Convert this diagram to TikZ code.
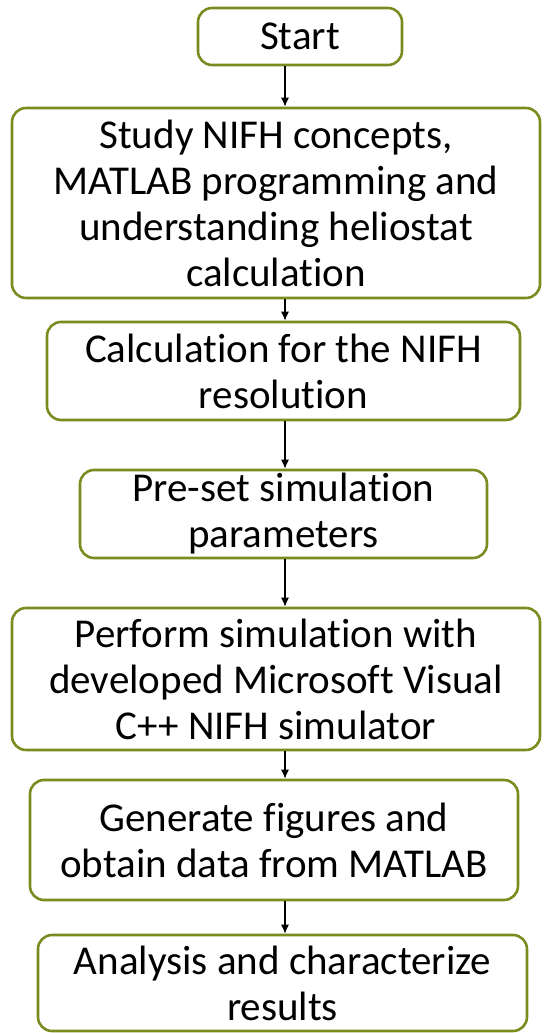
\documentclass[tikz,border=0pt]{standalone}
\usepackage{fontspec}
\setmainfont{Carlito}[Ligatures=NoCommon]
\usetikzlibrary{arrows.meta}
\definecolor{boxgreen}{RGB}{122,140,32}

\begin{document}
\begin{tikzpicture}[x=1pt,y=-1pt,
	step box/.style={shape=rectangle,rounded corners=14pt,draw=boxgreen,line width=2.6pt,
		align=center,inner sep=0pt,font=\fontsize{41}{46}\selectfont},
	flow/.style={-{Latex[length=9pt,width=8pt]},line width=1.3pt,black}]

	\useasboundingbox (0,0) rectangle (544,1033);

	\node[step box,minimum width=204pt,minimum height=57pt]  (start)   at (300, 36.5) {Start};
	\node[step box,minimum width=528pt,minimum height=190pt] (study)   at (276, 203)  {Study NIFH concepts,\\ MATLAB programming and\\ understanding heliostat\\ calculation};
	\node[step box,minimum width=473pt,minimum height=98pt]  (calc)    at (283.5, 371) {Calculation for the NIFH\\ resolution};
	\node[step box,minimum width=407pt,minimum height=88pt]  (preset)  at (283.5, 514) {Pre-set simulation\\ parameters};
	\node[step box,minimum width=528pt,minimum height=142pt] (perform) at (276, 679)  {Perform simulation with\\ developed Microsoft Visual\\ C++ NIFH simulator};
	\node[step box,minimum width=488pt,minimum height=120pt] (figs)    at (274, 840)  {Generate figures and\\ obtain data from MATLAB};
	\node[step box,minimum width=489pt,minimum height=96pt]  (results) at (282.5, 983) {Analysis and characterize\\ results};

	\coordinate (axis) at (285, 0);

	\draw[flow] (start.south -| axis)   -- (study.north -| axis);
	\draw[flow] (study.south -| axis)   -- (calc.north -| axis);
	\draw[flow] (calc.south -| axis)    -- (preset.north -| axis);
	\draw[flow] (preset.south -| axis)  -- (perform.north -| axis);
	\draw[flow] (perform.south -| axis) -- (figs.north -| axis);
	\draw[flow] (figs.south -| axis)    -- (results.north -| axis);
\end{tikzpicture}
\end{document}
